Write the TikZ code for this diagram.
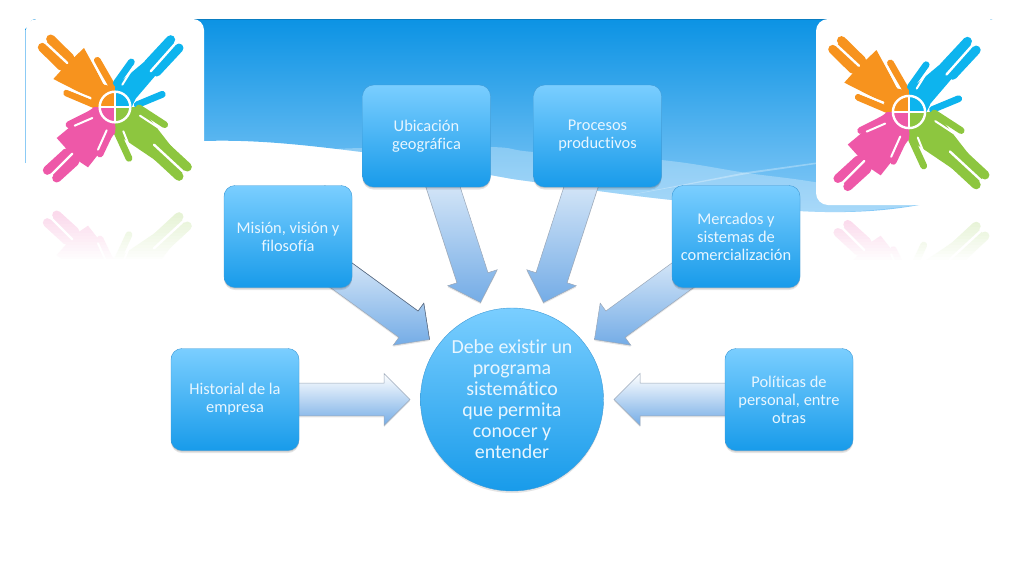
\documentclass[tikz,border=0pt]{standalone}
\usepackage{fontspec}
\setmainfont[Ligatures=NoCommon]{Carlito}
\usetikzlibrary{calc}
\pgfdeclarelayer{bg}
\pgfdeclarelayer{arrowlayer}
\pgfsetlayers{bg,arrowlayer,main}
\definecolor{bnTop}{HTML}{0C93E4}
\definecolor{bnBot}{HTML}{87CAF7}
\definecolor{boxTop}{HTML}{7ACEFF}
\definecolor{boxBot}{HTML}{189BEA}
\definecolor{boxEdge}{HTML}{3F9AD6}
\definecolor{txt}{HTML}{E8F6FF}
\definecolor{arBot}{HTML}{74ACE6}
\definecolor{arEdge}{HTML}{9AA7B8}
\definecolor{arDark}{HTML}{51657F}
\definecolor{logoO}{HTML}{F7931E}
\definecolor{logoB}{HTML}{0DB4EE}
\definecolor{logoG}{HTML}{8DC63F}
\definecolor{logoP}{HTML}{EE58A8}
\definecolor{edgeLine}{HTML}{8CCBF5}
\tikzset{
  infobox/.style={rectangle,rounded corners=11pt,minimum width=128pt,minimum height=102pt,
    top color=boxTop,bottom color=boxBot,draw=boxEdge,line width=.4pt,
    text=txt,align=center,font=\fontsize{16.4}{18}\selectfont,
    preaction={fill=black,opacity=.10,transform canvas={yshift=-2.5pt}},
    preaction={fill=black,opacity=.12,transform canvas={yshift=-1.2pt}}},
  hub/.style={circle,minimum size=183pt,inner sep=0pt,
    top color=boxTop,bottom color=boxBot,draw=boxEdge,line width=.4pt,
    text=txt,align=center,font=\fontsize{19.9}{21}\selectfont,
    preaction={fill=black,opacity=.10,transform canvas={yshift=-2pt}}},
  finger/.style={line width=9pt,line cap=round},
  thumb/.style={line width=6.8pt,line cap=round},
  slit/.style={white,line width=2pt,line cap=round},
  gap/.style={white,line width=2.4pt,line cap=round},
}
% hand logo, coordinates in enlarged pixels round the centre
\newcommand\handlogo[5]{% cx, cy, scale x, scale y, strength
 \begin{scope}[shift={(#1,#2)},x=#3*0.3333pt,y=-#4*0.3333pt]
  \colorlet{cO}{logoO!#5!white}\colorlet{cB}{logoB!#5!white}
  \colorlet{cG}{logoG!#5!white}\colorlet{cP}{logoP!#5!white}
  % orange
  \fill[cO] (-93,-177)--(-33,-67)--(0,-60)--(0,0)--(-63,0)--(-73,-27)--(-185,-84)--(-155,-117)--(-218,-179)--(-193,-204)--(-130,-142)--cycle;
  \draw[cO,finger] (-193,-204)--(-135,-147);
  \draw[cO,finger] (-218,-179)--(-160,-122);
  \draw[cO,thumb] (-53,-140)--(-8,-62);
  \draw[cO,thumb] (-145,-42)--(-60,-6);
  % blue
  \fill[cB] (167,-202)--(192,-177)--(62,-25)--(50,0)--(0,0)--(0,-62)--cycle;
  \draw[cB,finger] (167,-202)--(100,-130);
  \draw[cB,finger] (192,-177)--(125,-105);
  \draw[cB,thumb] (49,-135)--(4,-72);
  \draw[cB,thumb] (142,-38)--(67,-7);
  % green
  \fill[cG] (0,0)--(77,0)--(217,180)--(192,208)--(0,78)--cycle;
  \draw[cG,finger] (217,180)--(150,118);
  \draw[cG,finger] (192,208)--(125,146);
  \draw[cG,thumb] (149,53)--(72,3);
  \draw[cG,thumb] (42,154)--(7,78);
  % pink
  \fill[cP] (0,0)--(0,78)--(-81,181)--(-115,158)--(-175,213)--(-203,190)--(-140,132)--(-175,93)--(-63,0)--cycle;
  \draw[cP,finger] (-203,190)--(-145,137);
  \draw[cP,finger] (-175,213)--(-120,163);
  \draw[cP,thumb] (-138,53)--(-53,10);
  \draw[cP,thumb] (-45,141)--(-8,63);
  % slits
  \draw[gap] (-143,-132)--(-212,-196);
  \draw[slit] (-63,-132)--(-33,-72);
  \draw[slit] (-150,-57)--(-73,-27);
  \draw[gap] (107,-107)--(186,-196);
  \draw[slit] (22,-67)--(55,-120);
  \draw[slit] (70,-24)--(127,-52);
  \draw[gap] (117,113)--(211,200);
  \draw[slit] (75,26)--(127,60);
  \draw[slit] (25,73)--(47,128);
  \draw[gap] (-128,140)--(-195,207);
  \draw[slit] (-121,56)--(-68,33);
  \draw[slit] (-51,128)--(-25,70);
  % ring
  \fill[cO] (0,0)--(-45,0) arc[start angle=180,end angle=270,radius=45]--cycle;
  \fill[cB] (0,0)--(0,-45) arc[start angle=270,end angle=360,radius=45]--cycle;
  \fill[cG] (0,0)--(45,0) arc[start angle=0,end angle=90,radius=45]--cycle;
  \fill[cP] (0,0)--(0,45) arc[start angle=90,end angle=180,radius=45]--cycle;
  \draw[white,line width=2.4pt] (0,0) circle[radius=46];
  \draw[white,line width=1.5pt] (-46,0)--(46,0) (0,-46)--(0,46);
 \end{scope}
}
% block arrow from a box to the hub
\newcommand\blockarrow[1]{%
  \coordinate (#1tip) at ($(hubnode)!102pt!(#1)$);
  \coordinate (#1b) at ($(#1tip)!26pt!(#1)$);
  \coordinate (#1cl) at ($(#1b)!26pt!90:(#1tip)$);
  \coordinate (#1cr) at ($(#1b)!26pt!-90:(#1tip)$);
  \coordinate (#1jl) at ($(#1b)!16.3pt!90:(#1tip)$);
  \coordinate (#1jr) at ($(#1b)!16.3pt!-90:(#1tip)$);
  \coordinate (#1sl) at ($(#1)!16.3pt!90:(#1tip)$);
  \coordinate (#1sr) at ($(#1)!16.3pt!-90:(#1tip)$);
  \path[fill=black,opacity=.10,transform canvas={yshift=-1.5pt}] (#1sl)--(#1jl)--(#1cl)--(#1tip)--(#1cr)--(#1jr)--(#1sr)--cycle;
  \path[draw=arEdge,line width=.5pt,top color=white,bottom color=arBot] (#1sl)--(#1jl)--(#1cl)--(#1tip)--(#1cr)--(#1jr)--(#1sr)--cycle;
}
\begin{document}
\begin{tikzpicture}[x=1pt,y=-1pt]
\useasboundingbox (0,0) rectangle (1024,576);
\begin{pgfonlayer}{bg}
  % banner
  \path[top color=bnTop,bottom color=bnBot] (25,163)--(25,28) to[out=-90,in=180] (35,19)--(990,19) to[out=0,in=-90] (1000,28)--(1000,180)
    -- plot[smooth,tension=.6] coordinates {(1000,180)(925,204)(825,212)(672,200)(534,182)(490,175)(362,152)(204,141)(25,163)} --cycle;
  \draw[color=bnTop!85!black,line width=.5pt] (35,19)--(985,19);
  % light band of the wave
  \path[fill=white,opacity=.28] plot[smooth,tension=.6] coordinates {(300,151)(362,148)(490,147)(534,152)(661,160)(747,173)(820,183)(925,204)}
    -- plot[smooth,tension=.6] coordinates {(925,204)(825,212)(672,200)(534,182)(490,175)(362,152)(300,151)} --cycle;
  \path[fill=white,opacity=.30] (619,197)--(747,172)--(820,162)--(820,163.5)--(747,174)--cycle;
  % white cards
  \fill[white,rounded corners=11pt] (26,19) rectangle (204,210);
  \fill[white,rounded corners=12pt] (816,19) rectangle (1001,205);
  \draw[edgeLine,line width=.7pt] (25.4,30)--(25.4,163);
  % logos
  \handlogo{115}{107}{1}{1}{100}
  \handlogo{909}{112}{1.05}{1.05}{100}
  % reflections
  \begin{scope}
    \clip (20,207) rectangle (210,258);
    \handlogo{115}{286}{1}{-1}{22}
    \foreach \i in {0,...,16}{\fill[white,opacity=\i/16] (20,{212+3*\i}) rectangle (210,{212+3*\i+3.2});}
  \end{scope}
  \begin{scope}
    \clip (816,213) rectangle (1010,260);
    \handlogo{909}{299}{1.05}{-1.05}{22}
    \foreach \i in {0,...,14}{\fill[white,opacity=\i/14] (816,{218+3*\i}) rectangle (1010,{218+3*\i+3.2});}
  \end{scope}
\end{pgfonlayer}
\node[infobox] (hist) at (235,399.5) {Historial de la\\empresa};
\node[infobox] (mis) at (288,236.5) {Misión, visión y\\filosofía};
\node[infobox] (ubi) at (426.5,136) {Ubicación\\geográfica};
\node[infobox] (proc) at (597.5,136) {Procesos\\productivos};
\node[infobox] (merc) at (736,236.5) {Mercados y\\sistemas de\\comercialización};
\node[infobox] (pol) at (789,399.5) {Políticas de\\personal, entre\\otras};
\node[hub] (hubnode) at (512,399.5) {Debe existir un\\programa\\sistemático\\que permita\\conocer y\\entender};
\begin{pgfonlayer}{arrowlayer}
  \blockarrow{hist}
  \blockarrow{mis}
  \draw[color=arDark,line width=.5pt] (mis)--(missl)--(misjl)--(miscl)--(mistip);
  \blockarrow{ubi}
  \blockarrow{proc}
  \blockarrow{merc}
  \blockarrow{pol}
\end{pgfonlayer}
\end{tikzpicture}
\end{document}
